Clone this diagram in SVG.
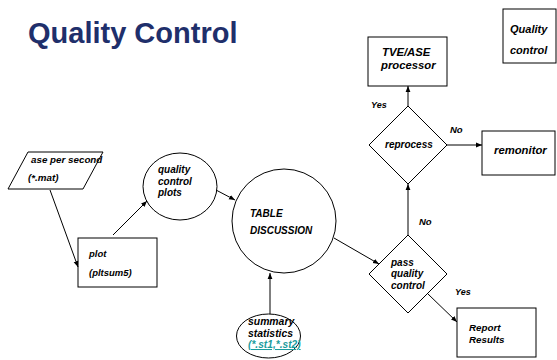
<svg xmlns="http://www.w3.org/2000/svg" width="557" height="360" viewBox="0 0 557 360">
  <style>
    .shape { fill: #ffffff; stroke: #000000; stroke-width: 1; }
    .lbl { font-family: "Liberation Sans", Arial, sans-serif; font-weight: bold; font-style: italic; fill: #000000; }
    .edge { fill: none; stroke: #000000; stroke-width: 1; marker-end: url(#arrow); }
    .title { font-family: "Liberation Sans", Arial, sans-serif; font-weight: bold; font-size: 29px; fill: #1f2f6b; }
    .link { fill: #1a9c9c; text-decoration: underline; }
  </style>
  <defs>
    <marker id="arrow" viewBox="0 0 10 10" refX="10" refY="5" markerWidth="6" markerHeight="6" orient="auto" markerUnits="userSpaceOnUse">
      <path d="M0,1 L10,5 L0,9 z" fill="#000000"/>
    </marker>
  </defs>

  <rect width="557" height="360" fill="#ffffff"/>

  <text class="title" x="28" y="43">Quality Control</text>

  <g id="legend">
    <rect class="shape" x="503" y="9" width="53" height="54"/>
    <text class="lbl" x="510" y="33" font-size="11">Quality</text>
    <text class="lbl" x="510" y="54" font-size="11">control</text>
  </g>

  <g id="tve-ase">
    <rect class="shape" x="368" y="37" width="79" height="49"/>
    <text class="lbl" x="382" y="56" font-size="11.3">TVE/ASE</text>
    <text class="lbl" x="381" y="69" font-size="11.3">processor</text>
  </g>

  <g id="reprocess">
    <polygon class="shape" points="408,106 447,145 408,184 369,145"/>
    <text class="lbl" x="385" y="148" font-size="10">reprocess</text>
  </g>

  <g id="remonitor">
    <rect class="shape" x="482" y="131" width="73" height="44"/>
    <text class="lbl" x="494" y="154" font-size="11.3">remonitor</text>
  </g>

  <g id="input-file">
    <polygon class="shape" points="28,152 103,152 83,189 8,189"/>
    <text class="lbl" x="31" y="163" font-size="9.8">ase per second</text>
    <text class="lbl" x="28" y="181" font-size="9.8">(*.mat)</text>
  </g>

  <g id="plot">
    <rect class="shape" x="78" y="238" width="79" height="49"/>
    <text class="lbl" x="89" y="257" font-size="9.5">plot</text>
    <text class="lbl" x="89" y="276" font-size="9.5">(pltsum5)</text>
  </g>

  <g id="qc-plots">
    <ellipse class="shape" cx="180" cy="186.5" rx="37" ry="33.5"/>
    <text class="lbl" x="158" y="173" font-size="10">quality</text>
    <text class="lbl" x="158" y="185" font-size="10">control</text>
    <text class="lbl" x="158" y="196" font-size="10">plots</text>
  </g>

  <g id="table-discussion">
    <ellipse class="shape" cx="284" cy="221" rx="52" ry="52"/>
    <text class="lbl" x="250" y="217" font-size="10">TABLE</text>
    <text class="lbl" x="250" y="234" font-size="10">DISCUSSION</text>
  </g>

  <g id="summary">
    <ellipse class="shape" cx="268.5" cy="336" rx="32" ry="22"/>
    <text class="lbl" x="248" y="325" font-size="10.4">summary</text>
    <text class="lbl" x="248" y="336.5" font-size="10.4">statistics</text>
    <text class="lbl link" x="248" y="348" font-size="10.2">(*.st1,*.st2)</text>
  </g>

  <g id="pass-qc">
    <polygon class="shape" points="408,235 447,274 408,313 369,274"/>
    <text class="lbl" x="391" y="266" font-size="10">pass</text>
    <text class="lbl" x="391" y="277" font-size="10">quality</text>
    <text class="lbl" x="391" y="289" font-size="10">control</text>
  </g>

  <g id="report">
    <rect class="shape" x="457" y="308" width="79" height="49"/>
    <text class="lbl" x="469" y="331" font-size="9.8">Report</text>
    <text class="lbl" x="469" y="343" font-size="9.8">Results</text>
  </g>

  <g id="connectors">
    <line class="edge" x1="50" y1="190" x2="78" y2="267"/>
    <line class="edge" x1="113" y1="235" x2="147" y2="201"/>
    <line class="edge" x1="216" y1="190" x2="235" y2="200"/>
    <line class="edge" x1="334" y1="238" x2="379" y2="264"/>
    <line class="edge" x1="270" y1="314" x2="270" y2="273"/>
    <line class="edge" x1="408" y1="235" x2="408" y2="184"/>
    <line class="edge" x1="408" y1="106" x2="408" y2="86"/>
    <line class="edge" x1="447" y1="145" x2="482" y2="145"/>
    <line class="edge" x1="428" y1="294" x2="457" y2="322"/>
  </g>

  <g id="edge-labels">
    <text class="lbl" x="371" y="108" font-size="9">Yes</text>
    <text class="lbl" x="450" y="133" font-size="9.5">No</text>
    <text class="lbl" x="419" y="225" font-size="9.5">No</text>
    <text class="lbl" x="455" y="295" font-size="9">Yes</text>
  </g>
</svg>
